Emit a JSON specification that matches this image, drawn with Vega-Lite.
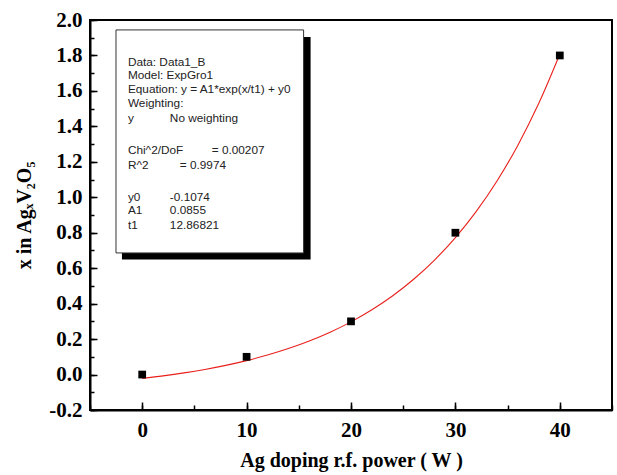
{
  "$schema": "https://vega.github.io/schema/vega-lite/v6.json",
  "width": 522,
  "height": 390,
  "autosize": {"type": "none"},
  "padding": {"left": 90, "top": 20, "right": 5, "bottom": 65},
  "background": "white",
  "config": {
    "view": {"stroke": "black", "strokeWidth": 2},
    "axis": {
      "labelFont": "Liberation Serif",
      "labelFontWeight": "bold",
      "labelFontSize": 21,
      "labelColor": "black",
      "titleFont": "Liberation Serif",
      "titleFontWeight": "bold",
      "titleFontSize": 20,
      "titleColor": "black",
      "domainColor": "black",
      "domainWidth": 2,
      "tickColor": "black",
      "tickWidth": 1.5,
      "grid": false
    }
  },
  "datasets": {
    "pts": [
      {"x": 0, "y": 0.0},
      {"x": 10, "y": 0.1},
      {"x": 20, "y": 0.3},
      {"x": 30, "y": 0.8},
      {"x": 40, "y": 1.8}
    ],
    "fit": [
      {"x": 0, "y": -0.0219},
      {"x": 2, "y": -0.0075},
      {"x": 4, "y": 0.0093},
      {"x": 6, "y": 0.0289},
      {"x": 8, "y": 0.0518},
      {"x": 10, "y": 0.0786},
      {"x": 12, "y": 0.1098},
      {"x": 14, "y": 0.1464},
      {"x": 16, "y": 0.1891},
      {"x": 18, "y": 0.2389},
      {"x": 20, "y": 0.2971},
      {"x": 22, "y": 0.3652},
      {"x": 24, "y": 0.4446},
      {"x": 26, "y": 0.5375},
      {"x": 28, "y": 0.6459},
      {"x": 30, "y": 0.7726},
      {"x": 32, "y": 0.9205},
      {"x": 34, "y": 1.0934},
      {"x": 36, "y": 1.2953},
      {"x": 38, "y": 1.5312},
      {"x": 40, "y": 1.8067}
    ],
    "shadow": [{"x": -1.94, "x2": 16.13, "y": 1.904, "y2": 0.649}],
    "box": [{"x": -2.51, "x2": 15.46, "y": 1.944, "y2": 0.686}],
    "txt": [
      {"x": -1.37, "y": 1.765, "t": "Data: Data1_B"},
      {"x": -1.37, "y": 1.690, "t": "Model: ExpGro1"},
      {"x": -1.37, "y": 1.609, "t": "Equation: y = A1*exp(x/t1) + y0"},
      {"x": -1.37, "y": 1.532, "t": "Weighting:"},
      {"x": -1.37, "y": 1.447, "t": "y"},
      {"x": 2.65, "y": 1.447, "t": "No weighting"},
      {"x": -1.37, "y": 1.267, "t": "Chi^2/DoF"},
      {"x": 6.66, "y": 1.267, "t": "= 0.00207"},
      {"x": -1.37, "y": 1.182, "t": "R^2"},
      {"x": 3.6, "y": 1.182, "t": "=  0.9974"},
      {"x": -1.37, "y": 1.002, "t": "y0"},
      {"x": 2.65, "y": 1.002, "t": "-0.1074"},
      {"x": -1.37, "y": 0.928, "t": "A1"},
      {"x": 2.65, "y": 0.928, "t": "0.0855"},
      {"x": -1.37, "y": 0.844, "t": "t1"},
      {"x": 2.65, "y": 0.844, "t": "12.86821"}
    ]
  },
  "resolve": {"axis": {"x": "independent", "y": "independent"}},
  "layer": [
    {
      "data": {"name": "shadow"},
      "mark": {"type": "rect", "fill": "black"},
      "encoding": {
        "x": {"field": "x", "type": "quantitative", "scale": {"domain": [-5, 45], "nice": false, "zero": false}, "axis": null},
        "x2": {"field": "x2"},
        "y": {"field": "y", "type": "quantitative", "scale": {"domain": [-0.2, 2.0], "nice": false, "zero": false}, "axis": null},
        "y2": {"field": "y2"}
      }
    },
    {
      "data": {"name": "box"},
      "mark": {"type": "rect", "fill": "white", "stroke": "#333333", "strokeWidth": 1},
      "encoding": {
        "x": {"field": "x", "type": "quantitative", "axis": null},
        "x2": {"field": "x2"},
        "y": {"field": "y", "type": "quantitative", "axis": null},
        "y2": {"field": "y2"}
      }
    },
    {
      "data": {"name": "txt"},
      "mark": {"type": "text", "align": "left", "baseline": "middle", "font": "Liberation Sans", "fontSize": 11.8, "color": "#222222"},
      "encoding": {
        "x": {"field": "x", "type": "quantitative", "axis": null},
        "y": {"field": "y", "type": "quantitative", "axis": null},
        "text": {"field": "t"}
      }
    },
    {
      "data": {"name": "fit"},
      "mark": {"type": "line", "color": "#e8201c", "strokeWidth": 1.1, "interpolate": "monotone"},
      "encoding": {
        "x": {"field": "x", "type": "quantitative", "axis": {"orient": "bottom", "values": [-5, 0, 5, 10, 15, 20, 25, 30, 35, 40, 45], "labels": false, "title": null, "domain": false, "tickSize": -5}},
        "y": {"field": "y", "type": "quantitative", "axis": {"orient": "left", "values": [-0.2, -0.1, 0, 0.1, 0.2, 0.3, 0.4, 0.5, 0.6, 0.7, 0.8, 0.9, 1.0, 1.1, 1.2, 1.3, 1.4, 1.5, 1.6, 1.7, 1.8, 1.9, 2.0], "labels": false, "title": null, "domain": false, "tickSize": -4}}
      }
    },
    {
      "data": {"name": "pts"},
      "mark": {"type": "point", "shape": "square", "filled": true, "color": "black", "size": 60, "opacity": 1},
      "encoding": {
        "x": {"field": "x", "type": "quantitative", "axis": {"orient": "bottom", "values": [0, 10, 20, 30, 40], "format": "d", "tickSize": -8, "labelPadding": 17, "title": "Ag doping r.f. power ( W )", "titlePadding": 10}},
        "y": {"field": "y", "type": "quantitative", "axis": {"orient": "left", "values": [-0.2, 0, 0.2, 0.4, 0.6, 0.8, 1.0, 1.2, 1.4, 1.6, 1.8, 2.0], "format": ".1f", "labelExpr": "replace(datum.label, '\u2212', '-')", "tickSize": -7, "labelPadding": 15, "title": "x in AgₓV₂O₅", "titlePadding": 14}}
      }
    }
  ]
}
